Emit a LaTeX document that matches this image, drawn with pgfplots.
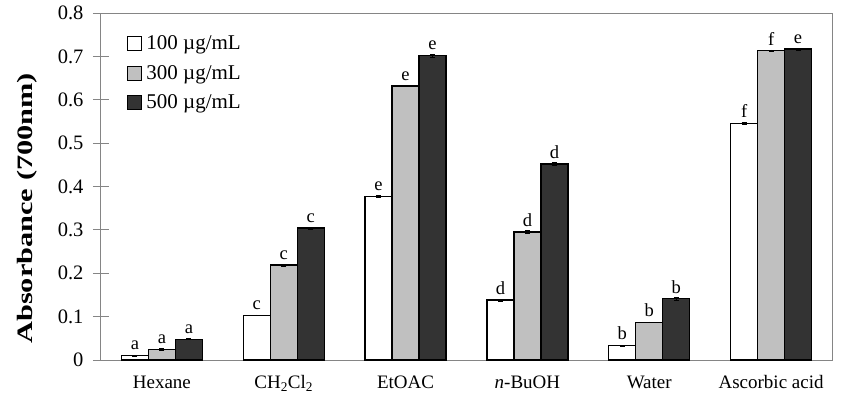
\documentclass[border=0pt]{standalone}
\usepackage{fontspec}
\setmainfont{Liberation Serif}
\usepackage{pgfplots}
\usepackage{pgfplotstable}
\pgfplotsset{compat=1.18}

\definecolor{barlight}{HTML}{C0C0C0}
\definecolor{bardark}{HTML}{333333}
\definecolor{axisgray}{HTML}{858585}

\pgfplotsset{
  sqlegend/.style={legend image code/.code={\draw[##1] (0bp,-7bp) rectangle (14bp,7bp);}},
}

% absorbance at 700 nm, three concentrations per fraction
\pgfplotstableread{
x y err lab
0 0.010 0.001 a
1 0.103 0.001 c
2 0.377 0.002 e
3 0.138 0.002 d
4 0.033 0.001 b
5 0.546 0.002 f
}\cone
\pgfplotstableread{
x y err lab
0 0.025 0.002 a
1 0.219 0.002 c
2 0.632 0.002 e
3 0.295 0.004 d
4 0.087 0.001 b
5 0.713 0.002 f
}\ctwo
\pgfplotstableread{
x y err lab
0 0.048 0.001 a
1 0.304 0.002 c
2 0.702 0.003 e
3 0.452 0.003 d
4 0.141 0.003 b
5 0.717 0.002 e
}\cthree

\begin{document}
\begin{tikzpicture}
\path[use as bounding box] (-101bp,-46bp) rectangle (752bp,360bp);
\begin{axis}[
  width=731bp, height=347bp, scale only axis,
  xmin=-0.5, xmax=5.5, ymin=0, ymax=0.8,
  ybar=0pt, bar width=27bp,
  axis line style={draw=axisgray, line width=1bp},
  xtick pos=bottom, ytick pos=left,
  xtick={0,1,2,3,4,5},
  xticklabels={Hexane, CH\textsubscript{2}Cl\textsubscript{2}, EtOAC, \textit{n}-BuOH, Water, Ascorbic acid},
  x tick style={draw=none},
  extra x ticks={0.5,1.5,2.5,3.5,4.5},
  extra x tick labels={},
  extra x tick style={tick align=inside, major tick length=6bp, major tick style={draw=axisgray, line width=1bp}},
  xticklabel style={font=\fontsize{19bp}{19bp}\selectfont, anchor=base, yshift=-12bp},
  ytick={0,0.1,0.2,0.3,0.4,0.5,0.6,0.7,0.8},
  y tick style={draw=axisgray, line width=1bp},
  ytick align=center, major tick length=16bp,
  yticklabel style={font=\fontsize{20.5bp}{20.5bp}\selectfont, /pgf/number format/fixed, /pgf/number format/precision=1, xshift=-6bp},
  /pgf/number format/assume math mode=true,
  ylabel={Absorbance (700nm)},
  ylabel style={font=\bfseries\fontsize{22bp}{22bp}\selectfont, xscale=1.38, at={(axis description cs:-0.101,0.437)}, anchor=center},
  nodes near coords, point meta=explicit symbolic,
  every node near coord/.append style={font=\fontsize{18.5bp}{18.5bp}\selectfont, inner sep=1bp, yshift=4bp, black},
  legend style={draw=none, fill=none, at={(rel axis cs:0.0355,0.94)}, anchor=north west,
    font=\fontsize{21bp}{21bp}\selectfont, row sep=10bp, inner sep=0pt},
  legend cell align=left,
  error bars/y dir=both, error bars/y explicit,
  error bars/error bar style={black, line width=0.6bp},
  error bars/error mark options={rotate=90, mark size=2.5bp, black, line width=0.6bp},
]
\addplot[draw=black, line width=1.3bp, fill=white, sqlegend]
  table[x=x, y=y, y error=err, meta=lab] {\cone};
\addplot[draw=black, line width=1.3bp, fill=barlight, sqlegend]
  table[x=x, y=y, y error=err, meta=lab] {\ctwo};
\addplot[draw=black, line width=1.3bp, fill=bardark, sqlegend]
  table[x=x, y=y, y error=err, meta=lab] {\cthree};
\legend{\hspace*{2bp}100 µg/mL, \hspace*{2bp}300 µg/mL, \hspace*{2bp}500 µg/mL}
\end{axis}
\end{tikzpicture}
\end{document}
